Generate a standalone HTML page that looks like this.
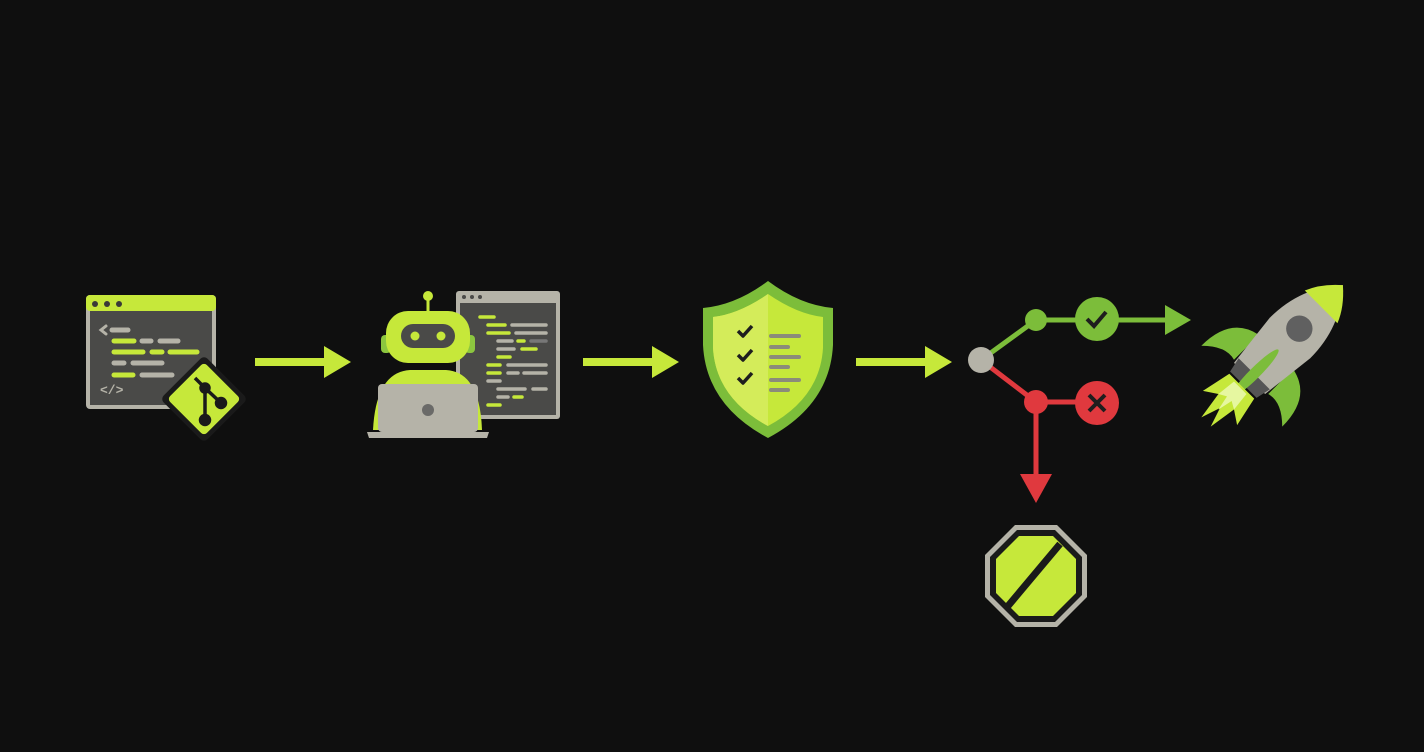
<!DOCTYPE html>
<html><head><meta charset="utf-8"><style>html,body{margin:0;padding:0;background:#0f0f0f;width:1424px;height:752px;overflow:hidden}</style></head>
<body>
<svg width="1424" height="752" viewBox="0 0 1424 752" xmlns="http://www.w3.org/2000/svg">
<rect width="1424" height="752" fill="#0f0f0f"/>
<!-- Icon 1: code window -->
<rect x="86" y="295" width="130" height="114" rx="4" fill="#b5b3a8"/>
<rect x="90" y="311" width="122" height="94" fill="#4a4a48"/>
<rect x="86" y="295" width="130" height="16" rx="4" fill="#c6e83a"/>
<circle cx="95" cy="304" r="3" fill="#3a3a38"/><circle cx="107" cy="304" r="3" fill="#3a3a38"/><circle cx="119" cy="304" r="3" fill="#3a3a38"/>
<g stroke-linecap="round" stroke-width="5">
<path d="M106 326 l-5 4 l5 4" fill="none" stroke="#b5b3a8" stroke-width="3"/>
<line x1="112" y1="330" x2="128" y2="330" stroke="#b5b3a8"/>
<line x1="114" y1="341" x2="134" y2="341" stroke="#c6e83a"/>
<line x1="142" y1="341" x2="151" y2="341" stroke="#b5b3a8"/>
<line x1="160" y1="341" x2="178" y2="341" stroke="#b5b3a8"/>
<line x1="114" y1="352" x2="143" y2="352" stroke="#c6e83a"/>
<line x1="152" y1="352" x2="162" y2="352" stroke="#c6e83a"/>
<line x1="170" y1="352" x2="197" y2="352" stroke="#c6e83a"/>
<line x1="114" y1="363" x2="124" y2="363" stroke="#b5b3a8"/>
<line x1="133" y1="363" x2="162" y2="363" stroke="#b5b3a8"/>
<line x1="114" y1="375" x2="133" y2="375" stroke="#c6e83a"/>
<line x1="142" y1="375" x2="172" y2="375" stroke="#b5b3a8"/>
</g>
<text x="100" y="394" font-family="Liberation Mono, monospace" font-size="13" font-weight="bold" fill="#b5b3a8">&lt;/&gt;</text>
<g transform="translate(204,399) rotate(45)">
<rect x="-31" y="-31" width="62" height="62" rx="5" fill="#1a1a1a"/>
<rect x="-26" y="-26" width="52" height="52" rx="4" fill="#c6e83a"/>
</g>
<g stroke="#1a1a1a" stroke-width="3.5" fill="#1a1a1a">
<line x1="195" y1="378" x2="205" y2="388"/><line x1="205" y1="388" x2="205" y2="420"/><line x1="205" y1="388" x2="220" y2="402"/>
<circle cx="205" cy="388" r="4"/><circle cx="221" cy="403" r="4.5"/><circle cx="205" cy="420" r="4.5"/>
</g>
<!-- Arrows -->
<g fill="#c6e83a">
<rect x="255" y="358" width="72" height="8"/><polygon points="324,346 351,362 324,378"/>
<rect x="583" y="358" width="72" height="8"/><polygon points="652,346 679,362 652,378"/>
<rect x="856" y="358" width="72" height="8"/><polygon points="925,346 952,362 925,378"/>
</g>
<!-- Robot code window -->
<rect x="456" y="291" width="104" height="128" rx="3" fill="#b5b3a8"/>
<rect x="460" y="303" width="96" height="112" fill="#4a4a48"/>
<circle cx="464" cy="297" r="2" fill="#4a4a48"/><circle cx="472" cy="297" r="2" fill="#4a4a48"/><circle cx="480" cy="297" r="2" fill="#4a4a48"/>
<g stroke-linecap="round" stroke-width="3.5">
<line x1="480" y1="317" x2="494" y2="317" stroke="#c6e83a"/>
<line x1="488" y1="325" x2="505" y2="325" stroke="#c6e83a"/><line x1="512" y1="325" x2="546" y2="325" stroke="#b5b3a8"/>
<line x1="488" y1="333" x2="509" y2="333" stroke="#c6e83a"/><line x1="516" y1="333" x2="546" y2="333" stroke="#b5b3a8"/>
<line x1="498" y1="341" x2="512" y2="341" stroke="#b5b3a8"/><line x1="518" y1="341" x2="524" y2="341" stroke="#c6e83a"/><line x1="531" y1="341" x2="546" y2="341" stroke="#777"/>
<line x1="498" y1="349" x2="514" y2="349" stroke="#b5b3a8"/><line x1="522" y1="349" x2="536" y2="349" stroke="#c6e83a"/>
<line x1="498" y1="357" x2="510" y2="357" stroke="#c6e83a"/>
<line x1="488" y1="365" x2="500" y2="365" stroke="#c6e83a"/><line x1="508" y1="365" x2="546" y2="365" stroke="#b5b3a8"/>
<line x1="488" y1="373" x2="500" y2="373" stroke="#c6e83a"/><line x1="508" y1="373" x2="518" y2="373" stroke="#b5b3a8"/><line x1="524" y1="373" x2="546" y2="373" stroke="#b5b3a8"/>
<line x1="488" y1="381" x2="500" y2="381" stroke="#b5b3a8"/>
<line x1="498" y1="389" x2="525" y2="389" stroke="#b5b3a8"/><line x1="533" y1="389" x2="546" y2="389" stroke="#b5b3a8"/>
<line x1="498" y1="397" x2="508" y2="397" stroke="#b5b3a8"/><line x1="514" y1="397" x2="522" y2="397" stroke="#c6e83a"/>
<line x1="488" y1="405" x2="500" y2="405" stroke="#c6e83a"/>
</g>
<!-- Robot -->
<line x1="428" y1="297" x2="428" y2="312" stroke="#c6e83a" stroke-width="3"/>
<circle cx="428" cy="296" r="5" fill="#c6e83a"/>
<rect x="381" y="335" width="10" height="18" rx="4" fill="#8cc63f"/>
<rect x="465" y="335" width="10" height="18" rx="4" fill="#8cc63f"/>
<rect x="386" y="311" width="84" height="52" rx="22" fill="#c6e83a"/>
<rect x="401" y="324" width="54" height="24" rx="12" fill="#4a4a48"/>
<circle cx="415" cy="336" r="4.5" fill="#c6e83a"/><circle cx="441" cy="336" r="4.5" fill="#c6e83a"/>
<path d="M373 430 Q376 372 410 370 L446 370 Q480 372 482 430 Z" fill="#c6e83a"/>
<rect x="378" y="384" width="100" height="48" rx="4" fill="#b5b3a8"/>
<circle cx="428" cy="410" r="6" fill="#6a6a68"/>
<path d="M367 432 L489 432 L487 438 L369 438 Z" fill="#b5b3a8"/>
<!-- Shield -->
<path d="M768 281 Q800 305 833 308 L833 345 Q830 405 768 438 Q706 405 703 345 L703 308 Q736 305 768 281 Z" fill="#7cbd3a"/>
<path d="M768 294 Q797 314 823 317 L823 348 Q820 398 768 426 Q716 398 713 348 L713 317 Q739 314 768 294 Z" fill="#c6e83a"/>
<path d="M768 294 Q739 314 713 317 L713 348 Q716 398 768 426 Z" fill="#d4ec5a"/>
<g fill="none" stroke="#1e1e1e" stroke-width="3.5" stroke-linejoin="round">
<path d="M738 331 l5 5 l9 -10"/><path d="M738 355 l5 5 l9 -10"/><path d="M738 378 l5 5 l9 -10"/>
</g>
<g stroke="#8b8b7a" stroke-width="4" stroke-linecap="round">
<line x1="771" y1="336" x2="799" y2="336"/><line x1="771" y1="347" x2="788" y2="347"/>
<line x1="771" y1="357" x2="799" y2="357"/><line x1="771" y1="367" x2="788" y2="367"/>
<line x1="771" y1="380" x2="799" y2="380"/><line x1="771" y1="390" x2="788" y2="390"/>
</g>
<!-- Branch -->
<line x1="981" y1="360" x2="1036" y2="320" stroke="#7cbd3a" stroke-width="5"/>
<line x1="1036" y1="320" x2="1168" y2="320" stroke="#7cbd3a" stroke-width="5"/>
<polygon points="1165,305 1191,320 1165,335" fill="#7cbd3a"/>
<circle cx="1036" cy="320" r="11" fill="#7cbd3a"/>
<circle cx="1097" cy="319" r="22" fill="#7cbd3a"/>
<path d="M1087 319 l7 7 l12 -14" fill="none" stroke="#1e1e1e" stroke-width="4"/>
<line x1="981" y1="360" x2="1036" y2="402" stroke="#e0393e" stroke-width="5"/>
<line x1="1036" y1="402" x2="1090" y2="402" stroke="#e0393e" stroke-width="5"/>
<line x1="1036" y1="402" x2="1036" y2="476" stroke="#e0393e" stroke-width="5"/>
<polygon points="1020,474 1052,474 1036,503" fill="#e0393e"/>
<circle cx="1036" cy="402" r="12" fill="#e0393e"/>
<circle cx="1097" cy="403" r="22" fill="#e0393e"/>
<path d="M1089 395 l16 16 M1105 395 l-16 16" stroke="#1e1e1e" stroke-width="4"/>
<circle cx="981" cy="360" r="13" fill="#b5b3a8"/>
<!-- Stop octagon -->
<polygon points="1015,525 1057,525 1087,555 1087,597 1057,627 1015,627 985,597 985,555" fill="#b5b3a8"/>
<polygon points="1017,530 1055,530 1082,557 1082,595 1055,622 1017,622 990,595 990,557" fill="#1a1a1a"/>
<polygon points="1019,536 1053,536 1076,559 1076,593 1053,616 1019,616 996,593 996,559" fill="#c6e83a"/>
<line x1="1060" y1="544" x2="1008" y2="606" stroke="#1a1a1a" stroke-width="7"/>
<!-- Rocket -->
<g transform="translate(1290,338) rotate(45) scale(1.1)">
<path d="M-22 18 Q-52 24 -52 62 Q-36 46 -22 50 Z" fill="#7cbd3a"/>
<path d="M22 18 Q52 24 52 62 Q36 46 22 50 Z" fill="#7cbd3a"/>
<path d="M0 -68 Q26 -40 26 0 L20 52 L-20 52 L-26 0 Q-26 -40 0 -68 Z" fill="#b5b3a8"/>
<path d="M0 -68 Q15 -55 21 -40 L-21 -40 Q-15 -55 0 -68 Z" fill="#c6e83a"/>
<path d="M-20 46 L20 46 L17 60 L-17 60 Z" fill="#555"/>
<circle cx="0" cy="-12" r="12" fill="#606060"/>
<ellipse cx="0" cy="45" rx="5" ry="30" fill="#7cbd3a"/>
<path d="M-16 62 L-22 90 L-10 82 L-6 108 L0 90 L6 108 L10 82 L22 90 L16 62 Z" fill="#c6e83a"/>
<path d="M-8 64 L-10 82 L-3 78 L0 92 L3 78 L10 82 L8 64 Z" fill="#e6f7a0"/>
</g>
</svg>
</body></html>
